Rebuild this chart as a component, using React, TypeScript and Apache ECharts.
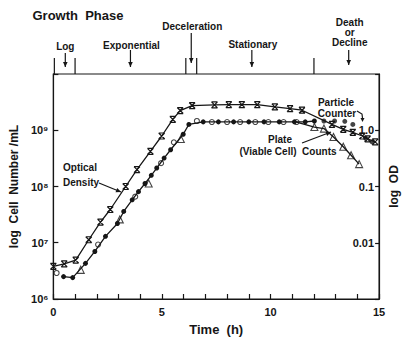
import React, { useEffect, useRef } from "react";
import * as echarts from "echarts";

// Optical density (right axis, OD units)
const odTime = [0, 0.5, 1.03, 1.63, 2.17, 2.62, 3.33, 3.85, 4.47, 4.99, 5.5, 5.84, 6.39, 7.42, 8.08, 8.68, 9.39, 10.2, 10.9, 11.45, 12.83, 13.35, 13.79, 14.23, 14.47, 14.82];
const odValue = [0.0038, 0.0042, 0.0049, 0.0113, 0.0233, 0.039, 0.1, 0.2, 0.42, 0.79, 1.56, 2.24, 2.75, 2.82, 2.86, 2.86, 2.86, 2.6, 2.43, 2.27, 1.27, 1.04, 0.92, 0.79, 0.7, 0.62];

// Particle counter (cells / mL)
const particleTime = [0.47, 0.89, 1.48, 1.91, 2.4, 2.95, 3.24, 3.63, 3.92, 4.22, 4.51, 4.76, 5.1, 5.4, 5.98, 6.24, 6.9, 7.6, 8.3, 9.0, 9.7, 10.4, 11.1, 11.6, 12.02, 12.46, 12.95, 13.42, 13.79, 14.38, 14.68];
const particleValue = [2.5e6, 2.4e6, 4.3e6, 7.0e6, 1.3e7, 2.2e7, 3.6e7, 5.8e7, 8.1e7, 1.13e8, 1.58e8, 2.13e8, 3.2e8, 4.5e8, 8.5e8, 1.27e9, 1.41e9, 1.41e9, 1.41e9, 1.41e9, 1.41e9, 1.41e9, 1.41e9, 1.41e9, 1.46e9, 1.46e9, 1.46e9, 1.44e9, 1.27e9, 7.2e8, 6.2e8];
const particleLineEnd = 12.02; // connected up to here, isolated dots after

// Plate (viable cell) counts — open circles and open triangles
const plateCircleTime = [0.15, 2.06, 3.77, 4.96, 5.55, 6.61, 7.3, 8.0, 8.6, 9.3, 9.9, 10.6, 11.2];
const plateCircleValue = [2.9e6, 9.3e6, 6.6e7, 2.6e8, 6.1e8, 1.46e9, 1.4e9, 1.4e9, 1.4e9, 1.4e9, 1.4e9, 1.4e9, 1.4e9];
const plateTriangleTime = [1.26, 3.06, 4.39, 5.87, 12.02, 12.46, 12.9, 13.35, 13.71, 14.08];
const plateTriangleValue = [3.3e6, 2.6e7, 1.13e8, 7.0e8, 1.14e9, 1.07e9, 7.6e8, 5.1e8, 3.6e8, 2.5e8];

// Growth phases (top strip)
const phaseBounds = [0, 1, 6.1, 6.6, 12];
const phaseArrowTime = [0.55, 3.55, 6.35, 9.14, 13.6];
const phaseLabels = [["Log"], ["Exponential"], ["Deceleration"], ["Stationary"], ["Death", "or", "Decline"]];

const leftExpLabels: Record<number, string> = { 6: "10\u2076", 7: "10\u2077", 8: "10\u2078", 9: "10\u2079" };
const rightLabels: Record<number, string> = { 0: "1.0", [-1]: "0.1", [-2]: "0.01" };

const INK = "#161616";
const FONT = "Liberation Sans";

export default function App() {
  const ref = useRef<HTMLDivElement>(null);
  useEffect(() => {
    if (!ref.current) return;
    const chart = echarts.init(ref.current, undefined, { renderer: "svg" });
    const xSym = "path://M0,0L10,10M0,10L10,0M0,0L10,0M0,10L10,10";
    const axisText = { color: INK, fontFamily: FONT, fontWeight: "bold" as const };
    const declineStart = plateCircleTime.length - 1;
    const plateDecline = [
      [plateCircleTime[declineStart], plateCircleValue[declineStart]],
      ...plateTriangleTime.map((t, i) => [t, plateTriangleValue[i]]).filter((p) => p[0] > 11),
    ];
    const particlePts = particleTime.map((t, i) => [t, particleValue[i]]);

    chart.setOption({
      animation: false,
      grid: { left: 51, right: 19, top: 74, bottom: 39, show: true, borderColor: INK, borderWidth: 1.2, backgroundColor: "transparent" },
      xAxis: {
        type: "value", min: 0, max: 15, interval: 1,
        axisLine: { lineStyle: { color: INK, width: 1.2 } },
        axisTick: { inside: true, length: 5, lineStyle: { color: INK, width: 1.2 } },
        axisLabel: { ...axisText, fontSize: 11, margin: 7, formatter: (v: number) => (v % 5 === 0 ? String(v) : "") },
        splitLine: { show: false },
        name: "Time  (h)", nameLocation: "middle", nameGap: 24,
        nameTextStyle: { ...axisText, fontSize: 13 },
      },
      yAxis: [
        {
          type: "log", logBase: 10, min: 1e6, max: 1e10,
          axisLine: { show: true, lineStyle: { color: INK, width: 1.2 } },
          axisTick: { inside: true, length: 5, lineStyle: { color: INK, width: 1.2 } },
          minorTick: { show: false },
          axisLabel: { ...axisText, fontSize: 11, margin: 5, formatter: (v: number) => leftExpLabels[Math.round(Math.log10(v))] || "" },
          splitLine: { show: false },
          name: "log  Cell  Number /mL", nameLocation: "middle", nameGap: 26, nameRotate: 90,
          nameTextStyle: { ...axisText, fontSize: 12 },
        },
        {
          type: "log", logBase: 10, min: 0.001, max: 10, position: "right",
          axisLine: { show: true, lineStyle: { color: INK, width: 1.2 } },
          axisTick: { inside: true, length: 4, lineStyle: { color: INK, width: 1.2 } },
          minorTick: { show: false },
          axisLabel: { ...axisText, fontSize: 11, inside: true, margin: 5, formatter: (v: number) => rightLabels[Math.round(Math.log10(v))] || "" },
          splitLine: { show: false },
          name: "log  OD", nameLocation: "middle", nameGap: 8, nameRotate: 90,
          nameTextStyle: { ...axisText, fontSize: 12 },
        },
      ],
      series: [
        {
          name: "Optical Density", type: "line", yAxisIndex: 1,
          data: odTime.map((t, i) => [t, odValue[i]]),
          symbol: xSym, symbolSize: 6,
          itemStyle: { color: INK, borderColor: INK, borderWidth: 1.2 },
          lineStyle: { color: INK, width: 1.3 },
        },
        {
          name: "Particle Counter", type: "line", yAxisIndex: 0,
          data: particlePts.filter((p) => p[0] <= particleLineEnd),
          symbol: "circle", symbolSize: 5,
          itemStyle: { color: INK },
          lineStyle: { color: INK, width: 1.3 },
        },
        {
          name: "Particle Counter (late)", type: "scatter", yAxisIndex: 0,
          data: particlePts.filter((p) => p[0] > particleLineEnd),
          symbol: "circle", symbolSize: 5,
          itemStyle: { color: INK },
        },
        {
          name: "Plate decline", type: "line", yAxisIndex: 0,
          data: plateDecline, showSymbol: false, symbol: "none",
          lineStyle: { color: INK, width: 1.3 },
        },
        {
          name: "Plate circles", type: "scatter", yAxisIndex: 0,
          data: plateCircleTime.map((t, i) => [t, plateCircleValue[i]]),
          symbol: "circle", symbolSize: 5,
          itemStyle: { color: "#fff", borderColor: INK, borderWidth: 1.1 },
        },
        {
          name: "Plate triangles", type: "scatter", yAxisIndex: 0,
          data: plateTriangleTime.map((t, i) => [t, plateTriangleValue[i]]),
          symbol: "triangle", symbolSize: 7,
          itemStyle: { color: "#fff", borderColor: INK, borderWidth: 1.1 },
        },
      ],
    });

    const px = (t: number) => chart.convertToPixel({ xAxisIndex: 0 }, t) as number;
    const gridTop = 74;
    const g: any[] = [];
    const text = (s: string, x: number, y: number, size: number, align = "center") =>
      g.push({ type: "text", x, y, style: { text: s, fill: INK, fontFamily: FONT, fontWeight: "bold", fontSize: size, align, verticalAlign: "middle" } });
    const line = (x1: number, y1: number, x2: number, y2: number) =>
      g.push({ type: "line", shape: { x1, y1, x2, y2 }, style: { stroke: INK, lineWidth: 1.2 } });
    const head = (x1: number, y1: number, x2: number, y2: number, L = 5, W = 2.3) => {
      const dx = x2 - x1, dy = y2 - y1; const d = Math.hypot(dx, dy); const ux = dx / d, uy = dy / d;
      const bx = x2 - ux * L, by = y2 - uy * L;
      g.push({ type: "polygon", shape: { points: [[x2, y2], [bx - uy * W, by + ux * W], [bx + uy * W, by - ux * W]] }, style: { fill: INK } });
    };
    const arrow = (x1: number, y1: number, x2: number, y2: number) => { line(x1, y1, x2, y2); head(x1, y1, x2, y2); };

    text("Growth  Phase", 78, 15, 13);
    phaseBounds.forEach((t) => line(px(t) + (t === 0 ? 1 : 0), gridTop - 16, px(t) + (t === 0 ? 1 : 0), gridTop));
    const arrowTops = [53, 50, 33, 50, 50];
    const arrowBottoms = [67, 67, 63, 67, 65];
    const labelY = [46, 45, 26, 44, 22];
    phaseArrowTime.forEach((t, i) => {
      const x = px(t);
      arrow(x, arrowTops[i], x, arrowBottoms[i]);
      phaseLabels[i].forEach((s, j) => text(s, x + (i === 0 ? 0 : 1), labelY[i] + j * 10, 10));
    });

    // annotations
    text("Optical", 80, 167, 10);
    text("Density", 81, 182, 10);
    arrow(99, 183, 121, 192);
    text("Plate", 280, 139, 10);
    text("(Viable Cell)  Counts", 288, 151, 10);
    arrow(302, 143, 331, 132);
    text("Particle", 336, 102, 10);
    text("Counter", 337, 113, 10);
    g.push({ type: "polyline", shape: { points: [[357, 111], [362, 114], [362.5, 118]] }, style: { stroke: INK, lineWidth: 1.2, fill: "none" } });
    head(362.5, 116, 362.5, 122, 4, 2);

    chart.setOption({ graphic: g });
    return () => chart.dispose();
  }, []);
  return <div ref={ref} style={{ width: 408, height: 341, position: "absolute", left: 0, top: 0 }} />;
}
